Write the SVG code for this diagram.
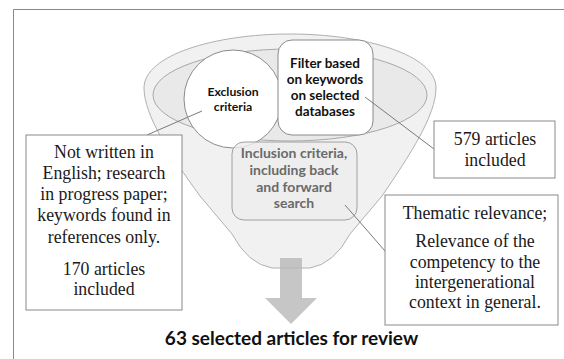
<svg xmlns="http://www.w3.org/2000/svg" width="564" height="359" viewBox="0 0 564 359">
<style>
.frame{fill:none;stroke:#8a8a8a;stroke-width:1}
.box{fill:#ffffff;stroke:#8a8a8a;stroke-width:1}
.serif{font-family:"Liberation Serif","Times New Roman",serif;font-size:17.8px;fill:#1a1a1a;text-anchor:middle}
.sa{font-family:Lato,"Open Sans",sans-serif;font-weight:bold;text-anchor:middle}
.conn{stroke:#7a7a7a;stroke-width:1;fill:none}
</style>
<rect width="564" height="359" fill="#ffffff"/>
<path class="frame" d="M13.5,359 V9.5 H564"/>
<g id="funnel">
<path d="M144,88 C144,55 215,34 290,34 C365,34 436,55 436,88 C436,115 410,155 382,196 L350,234 Q334,264 310,268 L272,268 Q248,264 232,234 L200,196 C170,155 144,115 144,88 Z" fill="#f1f1f1" stroke="#b0b0b0" stroke-width="1"/>
<ellipse cx="290" cy="95" rx="137" ry="46" fill="#e9e9e9" stroke="#a8a8a8" stroke-width="1"/>
</g>
<g id="arrow">
<path d="M280,258 H302 V298 H317 L291,324 L265,298 H280 Z" fill="#b8b8b8" fill-opacity="0.8"/>
</g>
<g id="exclusion">
<circle cx="233" cy="99" r="49" fill="#ffffff" stroke="#8a8a8a"/>
<text class="sa" font-size="12.2px" fill="#111" x="233" y="96">Exclusion</text>
<text class="sa" font-size="12.2px" fill="#111" x="233" y="111">criteria</text>
</g>
<g id="filter">
<rect x="278" y="40" width="95" height="95" rx="14" fill="#ffffff" stroke="#8a8a8a"/>
<text class="sa" font-size="13.5px" fill="#111" x="325" y="68">Filter based</text>
<text class="sa" font-size="13.5px" fill="#111" x="325" y="84">on keywords</text>
<text class="sa" font-size="13.5px" fill="#111" x="325" y="100">on selected</text>
<text class="sa" font-size="13.5px" fill="#111" x="325" y="116">databases</text>
</g>
<g id="inclusion">
<rect x="232" y="142" width="125" height="78" rx="12" fill="#eeeeee" fill-opacity="0.8" stroke="#a0a0a0"/>
<text class="sa" font-size="14px" fill="#6a6a6a" x="294" y="158">Inclusion criteria,</text>
<text class="sa" font-size="14px" fill="#6a6a6a" x="294" y="175">including back</text>
<text class="sa" font-size="14px" fill="#6a6a6a" x="294" y="192">and forward</text>
<text class="sa" font-size="14px" fill="#6a6a6a" x="294" y="208">search</text>
</g>
<g id="connectors">
<line class="conn" x1="202" y1="111" x2="147" y2="135"/>
<line class="conn" x1="365" y1="97" x2="434" y2="149"/>
<line class="conn" x1="345" y1="205" x2="385" y2="251"/>
</g>
<g id="exclusion-note">
<rect class="box" x="26" y="135" width="156" height="175"/>
<text class="serif" x="104" y="158">Not written in</text>
<text class="serif" x="104" y="179">English; research</text>
<text class="serif" x="104" y="200">in progress paper;</text>
<text class="serif" x="104" y="221">keywords found in</text>
<text class="serif" x="104" y="243">references only.</text>
<text class="serif" x="104" y="275">170 articles</text>
<text class="serif" x="104" y="295">included</text>
</g>
<g id="filter-note">
<rect class="box" x="434" y="121" width="121" height="57"/>
<text class="serif" x="495" y="145">579 articles</text>
<text class="serif" x="495" y="166">included</text>
</g>
<g id="inclusion-note">
<rect class="box" x="385" y="195" width="173" height="130"/>
<text class="serif" x="475" y="219">Thematic relevance;</text>
<text class="serif" x="475" y="247">Relevance of the</text>
<text class="serif" x="475" y="268">competency to the</text>
<text class="serif" x="475" y="288">intergenerational</text>
<text class="serif" x="475" y="308">context in general.</text>
</g>
<g id="result">
<text x="291.5" y="345" font-family="Lato,'Open Sans',sans-serif" font-weight="bold" font-size="19px" fill="#111" text-anchor="middle">63 selected articles for review</text>
</g>
</svg>
